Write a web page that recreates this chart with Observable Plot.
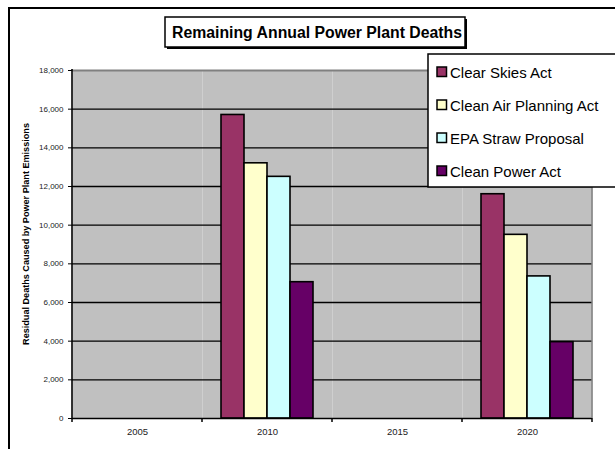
<!DOCTYPE html>
<html>
<head>
<meta charset="utf-8">
<script src="https://cdn.jsdelivr.net/npm/d3@7"></script>
<script src="https://cdn.jsdelivr.net/npm/@observablehq/plot@0.6"></script>
<style>
  html, body { margin: 0; padding: 0; background: #fff; overflow: hidden; }
  #chart svg { display: block; font-family: Arial, "Liberation Sans", sans-serif; }
</style>
</head>
<body>
<div id="chart"></div>
<script>
const years = ["2005", "2010", "2015", "2020"];
const series = ["Clear Skies Act", "Clean Air Planning Act", "EPA Straw Proposal", "Clean Power Act"];
const colors = ["#993366", "#FFFFCC", "#CCFFFF", "#660066"];
const clearSkies   = [null, 15700, null, 11600];
const cleanAir     = [null, 13200, null, 9500];
const epaStraw     = [null, 12500, null, 7350];
const cleanPower   = [null, 7050,  null, 3950];
const yTicks = [0, 2000, 4000, 6000, 8000, 10000, 12000, 14000, 16000, 18000];
const title = "Remaining Annual Power Plant Deaths";
const yLabel = "Residual Deaths Caused by Power Plant Emissions";

const valuesBySeries = [clearSkies, cleanAir, epaStraw, cleanPower];
const data = [];
years.forEach((yr, i) => {
  series.forEach((s, j) => {
    data.push({year: yr, series: s, value: valuesBySeries[j][i]});
  });
});

const W = 615, H = 449;
const chart = Plot.plot({
  width: W,
  height: H,
  marginLeft: 72,
  marginRight: 23,
  marginTop: 70,
  marginBottom: 31,
  style: {fontFamily: "Arial, 'Liberation Sans', sans-serif", background: "white", overflow: "visible"},
  fx: {domain: years, padding: 0, label: null},
  x: {domain: series, paddingInner: 0, paddingOuter: 0.79, axis: null},
  y: {domain: [0, 18000], label: null},
  color: {domain: series, range: colors},
  marks: [
    Plot.frame({fill: "#C0C0C0", stroke: null}),
    Plot.ruleY(yTicks.filter(d => d > 0 && d < 18000), {stroke: "black", strokeWidth: 1.3}),
    Plot.ruleY([18000], {stroke: "#808080", strokeWidth: 2}),
    Plot.barY(data, {fx: "year", x: "series", y: "value", fill: "series", stroke: "black", strokeWidth: 1.6, inset: 0}),
    Plot.ruleY([0], {stroke: "black", strokeWidth: 1.6}),
    Plot.axisY({ticks: yTicks, tickFormat: d3.format(","), tickSize: 4, fontSize: 8, label: null, stroke: "black", color: "#222"}),
    Plot.axisFx({anchor: "bottom", tickSize: 0, tickPadding: 10, fontSize: 9.5, label: null, color: "#222"})
  ]
});
document.getElementById("chart").appendChild(chart);

// Decorations using the library's scales
const svg = d3.select(chart);
const fx = chart.scale("fx");
const yS = chart.scale("y");
const y0 = yS.apply(0), yTop = yS.apply(18000);
const left = fx.apply(years[0]);
const bw = fx.bandwidth;
const right = fx.apply(years[years.length - 1]) + bw;

// left axis line and right gray border
svg.append("line").attr("x1", left).attr("x2", left).attr("y1", yTop - 1).attr("y2", y0 + 0.5)
  .attr("stroke", "black").attr("stroke-width", 1.6);
svg.append("line").attr("x1", right).attr("x2", right).attr("y1", yTop - 1).attr("y2", y0)
  .attr("stroke", "#808080").attr("stroke-width", 1.5);
// category boundary ticks
const bounds = years.map(y => fx.apply(y)).concat([right]);
bounds.forEach(b => {
  svg.append("line").attr("x1", b).attr("x2", b).attr("y1", y0).attr("y2", y0 + 4)
    .attr("stroke", "black").attr("stroke-width", 1.5);
});

// outer border
svg.append("path").attr("d", `M9,${H + 10} V8 H${W + 10}`).attr("fill", "none")
  .attr("stroke", "black").attr("stroke-width", 2);

// title box with shadow
svg.append("rect").attr("x", 167).attr("y", 19).attr("width", 300).attr("height", 30).attr("fill", "black");
svg.append("rect").attr("x", 165).attr("y", 17).attr("width", 300).attr("height", 30)
  .attr("fill", "white").attr("stroke", "black").attr("stroke-width", 1.5);
svg.append("text").attr("x", 317).attr("y", 37.5).attr("text-anchor", "middle")
  .attr("font-size", 15.8).attr("font-weight", "bold").attr("fill", "black").text(title);

// y label
svg.append("text").attr("transform", `translate(29,234) rotate(-90)`)
  .attr("text-anchor", "middle").attr("font-size", 9.1).attr("font-weight", "bold")
  .attr("fill", "black").text(yLabel);

// legend
svg.append("rect").attr("x", 428).attr("y", 54).attr("width", 300).attr("height", 133)
  .attr("fill", "white").attr("stroke", "black").attr("stroke-width", 1.5);
const rowY = [72, 105, 138, 171];
series.forEach((s, i) => {
  svg.append("rect").attr("x", 437).attr("y", rowY[i] - 5).attr("width", 9.5).attr("height", 9.5)
    .attr("fill", colors[i]).attr("stroke", "black").attr("stroke-width", 1.5);
  svg.append("text").attr("x", 450).attr("y", rowY[i] + 5.5).attr("text-anchor", "start")
    .attr("font-size", 15).attr("fill", "black").text(s);
});
</script>
</body>
</html>
